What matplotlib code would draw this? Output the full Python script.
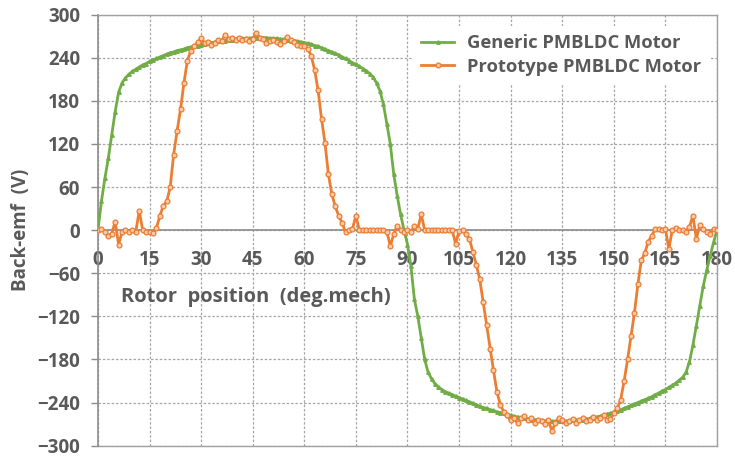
import numpy as np
import matplotlib
matplotlib.use("Agg")
import matplotlib.pyplot as plt

plt.rcParams['font.family'] = ['Open Sans', 'DejaVu Sans']

# Rotor position in mechanical degrees (1 degree step)
rotor_deg = np.arange(0, 181)

# Back-emf of the generic PMBLDC motor (V)
generic_emf = [
    0, 40, 72, 100, 132, 165, 192, 205, 212, 217, 221,
    224, 227, 230, 232, 235, 237, 239, 241, 243, 245,
    247, 248, 250, 251, 252, 254, 255, 256, 257, 258,
    259, 260, 261, 262, 263, 263, 264, 265, 265, 266,
    266, 267, 267, 267, 268, 268, 268, 268, 268, 267,
    267, 267, 266, 266, 265, 264, 264, 263, 262, 261,
    260, 259, 257, 256, 254, 252, 250, 248, 246, 244,
    241, 239, 236, 233, 231, 228, 225, 222, 218, 213,
    205, 194, 175, 148, 120, 78, 48, 22, 0, -20,
    -50, -96, -120, -150, -180, -198, -207, -214, -218, -222,
    -225, -227, -229, -231, -233, -235, -237, -239, -241, -243,
    -245, -247, -248, -250, -251, -253, -254, -255, -257, -258,
    -259, -260, -261, -262, -263, -264, -264, -265, -265, -266,
    -266, -266, -266, -266, -266, -266, -266, -265, -265, -264,
    -264, -263, -262, -261, -260, -259, -258, -256, -255, -253,
    -252, -250, -248, -246, -244, -242, -240, -238, -236, -234,
    -232, -229, -227, -224, -222, -219, -216, -213, -209, -205,
    -198, -183, -160, -133, -105, -78, -56, -36, -17, 0,
]

# Back-emf of the prototype PMBLDC motor (V)
prototype_emf = [
    0, 2, -2, -8, -5, 12, -20, -3, 0, -2, 0,
    -2, 27, 0, -2, -3, -4, 3, 20, 34, 40,
    60, 105, 138, 168, 205, 236, 250, 256, 262, 267,
    260, 262, 258, 261, 265, 264, 272, 266, 268, 265,
    268, 265, 266, 264, 266, 274, 268, 266, 260, 263,
    265, 262, 259, 264, 269, 265, 262, 258, 257, 256,
    252, 243, 223, 195, 155, 122, 78, 50, 33, 20,
    10, -3, 0, 2, 20, 0, 0, 0, 0, 0,
    0, 0, 0, -2, -22, -6, 6, 0, -3, 0,
    -3, 6, 2, 22, 0, 0, 0, 0, 0, 0,
    0, 0, 0, -19, -1, 0, -6, -12, -30, -48,
    -68, -100, -132, -165, -195, -225, -243, -253, -258, -265,
    -262, -269, -262, -259, -265, -262, -268, -264, -266, -270,
    -265, -280, -268, -262, -264, -268, -266, -263, -268, -265,
    -262, -266, -264, -260, -265, -262, -258, -264, -263, -255,
    -248, -236, -210, -180, -148, -115, -75, -42, -32, -16,
    -8, 1, 1, 0, 2, -26, 0, 3, 0, 0,
    -2, 5, 20, -12, 7, 2, -3, -5, 2, 0,
]

x_ticks = list(range(0, 181, 15))
y_ticks = list(range(-300, 301, 60))

text_color = '#595959'
grid_color = '#a6a6a6'
green = '#70ad47'
orange = '#ed7d31'
tick_size = 13.5

fig = plt.figure(figsize=(7.35, 4.58), dpi=100)
ax = fig.add_axes([0.1333, 0.027, 0.8422, 0.941])

ax.plot(rotor_deg, generic_emf, color=green, lw=2.0, marker='^', ms=2.5,
        mfc=green, mec=green, label='Generic PMBLDC Motor', zorder=3)
ax.plot(rotor_deg, prototype_emf, color=orange, lw=2.0, marker='o', ms=3.5,
        mfc='#f8cbad', mec=orange, mew=0.9, label='Prototype PMBLDC Motor',
        zorder=4)

ax.set_xlim(0, 180)
ax.set_ylim(-300, 300)
ax.set_xticks(x_ticks)
ax.set_yticks(y_ticks)

ax.grid(True, color=grid_color, linestyle=(0, (2, 1.5)), linewidth=0.9, zorder=0)
ax.set_axisbelow(True)

# x axis crosses at zero, frame around the plot area
ax.spines['bottom'].set_position(('data', 0))
ax.spines['bottom'].set_color('#8c8c8c')
ax.spines['bottom'].set_linewidth(1.2)
ax.spines['left'].set_color('#8c8c8c')
ax.spines['left'].set_linewidth(1.2)
for side in ('top', 'right'):
    ax.spines[side].set_color('#a0a0a0')
    ax.spines[side].set_linewidth(1.0)
ax.axhline(-300, color='#a0a0a0', lw=1.0, clip_on=False, zorder=1)

ax.tick_params(axis='x', length=0, pad=14, labelsize=tick_size,
               labelcolor=text_color)
ax.tick_params(axis='y', length=5, width=1.0, color='#8c8c8c', pad=8,
               labelsize=tick_size, labelcolor=text_color)
for lbl in ax.get_xticklabels() + ax.get_yticklabels():
    lbl.set_fontweight('bold')

ax.set_ylabel('Back-emf  (V)', fontsize=13.5, fontweight='bold',
              color=text_color, labelpad=4)
ax.text(6.6, -93, 'Rotor  position  (deg.mech)', fontsize=14.5,
        fontweight='bold', color=text_color, ha='left', va='center')

leg = ax.legend(loc='upper right', bbox_to_anchor=(1.003, 0.995), frameon=True,
                fancybox=False, edgecolor='none', facecolor='white',
                framealpha=1.0, handlelength=1.8, handletextpad=0.7,
                labelspacing=0.3, borderpad=0.45,
                prop={'size': 13.2, 'weight': 'bold'})
for t in leg.get_texts():
    t.set_color(text_color)

fig.savefig('out.png', dpi=100, facecolor='white')
